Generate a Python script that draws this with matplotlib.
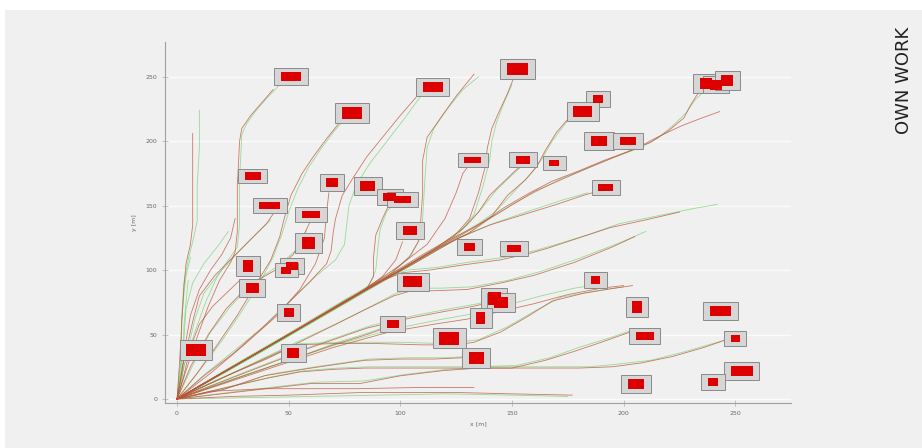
import matplotlib.pyplot as plt
from matplotlib.patches import Rectangle
import numpy as np

# obstacles: centre x, centre y, width, height [m]
box_x = [51, 114.6, 152.6, 78.3, 237, 241.5, 246.5, 188.5, 181.7, 189, 202,
         132.5, 155, 169, 34, 69.4, 85.5, 41.6, 60, 95.3, 101, 192, 104.3,
         59, 131, 151, 31.8, 51.5, 49, 33.6, 105.6, 187.5, 142, 145, 50,
         206, 243.5, 136, 96.7, 122, 209.5, 250, 8.5, 52, 134, 253, 205.5, 240]
box_y = [250, 242, 256, 222, 245, 244, 247, 233, 223, 200, 200,
         185.5, 185.5, 183, 173, 168, 165, 150, 143, 157, 155, 164, 131,
         121, 118, 117, 103, 103, 100, 86, 91, 92.4, 78, 75, 67,
         71.4, 68.3, 63, 58, 47, 49, 47, 38, 35.7, 32, 21.7, 11.6, 13.2]
box_w = [9.0, 8.7, 9.5, 9.0, 5.4, 5.4, 5.4, 4.5, 8.5, 7.0, 7.5,
         7.5, 6.3, 4.5, 7.0, 5.0, 6.7, 9.4, 8.0, 5.8, 7.6, 6.7, 6.3,
         6.0, 4.8, 6.4, 4.5, 5.0, 4.5, 5.8, 8.5, 4.0, 5.8, 6.3, 4.5,
         4.2, 9.5, 4.0, 5.2, 9.0, 8.0, 3.9, 8.7, 5.2, 6.7, 9.7, 7.2, 4.5]
box_h = [7.0, 7.8, 9.8, 9.3, 8.5, 7.8, 8.5, 6.5, 9.0, 7.8, 6.5,
         5.2, 5.7, 4.7, 5.5, 7.0, 7.8, 5.2, 5.2, 6.2, 5.4, 5.7, 7.0,
         9.3, 6.0, 5.7, 9.5, 6.2, 5.4, 7.8, 8.3, 6.5, 10.0, 8.5, 7.0,
         9.0, 7.8, 9.6, 6.2, 9.6, 6.2, 5.2, 9.0, 8.3, 9.6, 8.0, 7.8, 6.0]
pad = 3.0

# planned paths (red) and driven paths (green), upper fan
red_upper = [
    [(0, 0), (1, 25), (2, 55), (3, 85), (4, 105), (6, 120), (7, 135), (7, 160), (7, 185), (7, 206)],
    [(0, 0), (4, 22), (9, 48), (14, 72), (19, 92), (24, 106), (26, 114), (27, 130), (27, 165),
     (28, 200), (29, 210), (33, 220), (38, 230), (43, 240)],
    [(0, 0), (3, 30), (7, 60), (10, 80), (17, 96), (25, 110), (33, 124), (40, 136), (44, 146)],
    [(0, 0), (6, 25), (14, 50), (22, 70), (32, 88), (44, 100), (52, 112), (57, 128), (60, 139)],
    [(0, 0), (9, 20), (18, 42), (27, 65), (35, 88), (42, 108), (46, 126), (48, 140), (51, 158),
     (56, 175), (61, 188), (67, 202), (73, 215)],
    [(0, 0), (12, 18), (25, 35), (38, 55), (50, 75), (60, 92), (67, 105), (69, 115), (70, 130),
     (71, 140), (74, 158), (79, 172), (85, 188), (92, 203), (100, 220), (108, 236)],
    [(0, 0), (20, 20), (40, 40), (60, 60), (75, 75), (85, 86), (88, 95), (88, 110), (89, 127),
     (92, 140), (95, 151)],
    [(0, 0), (25, 25), (50, 50), (75, 76), (95, 96), (104, 110), (108, 122), (109, 135), (110, 160),
     (110, 185), (112, 203), (118, 218), (125, 235), (133, 252)],
    [(0, 0), (30, 30), (60, 60), (90, 91), (110, 112), (124, 126), (131, 140), (135, 160), (138, 180),
     (139, 195), (141, 210), (144, 222), (148, 237), (151, 250)],
    [(0, 0), (35, 35), (70, 70), (100, 100), (120, 120), (133, 133), (141, 142), (148, 158),
     (156, 170), (161, 180), (165, 193), (170, 207), (175, 217)],
    [(0, 0), (35, 35), (70, 70), (100, 100), (118, 118), (130, 128), (138, 138), (146, 148),
     (158, 160), (168, 169), (180, 177), (191, 185), (202, 192), (212, 199), (220, 208),
     (227, 218), (230, 228), (234, 239)],
    [(0, 0), (50, 50), (100, 100), (125, 126), (140, 140), (160, 161), (185, 180), (205, 194),
     (215, 203), (226, 212), (235, 218), (243, 223)],
    [(0, 0), (40, 40), (80, 80), (105, 104), (125, 124), (140, 135), (155, 143), (170, 151),
     (182, 158), (188, 161)],
    [(0, 0), (40, 40), (75, 76), (92, 92), (101, 98), (113, 100), (128, 104), (145, 108),
     (158, 113), (166, 117), (180, 125), (194, 133), (210, 139), (225, 145)],
    [(0, 0), (45, 45), (90, 90), (115, 116), (128, 132), (135, 145), (140, 158), (146, 168),
     (152, 178), (156, 183)],
    [(0, 0), (30, 30), (60, 60), (85, 86), (100, 104), (112, 120), (120, 140), (125, 160),
     (128, 175), (131, 182)],
    [(0, 0), (15, 20), (30, 42), (45, 65), (55, 85), (62, 105), (66, 125), (67, 145), (68, 160)],
    [(0, 0), (2, 20), (4, 45), (6, 65), (10, 85), (15, 100), (20, 112), (24, 125), (26, 140)],
    [(0, 0), (3, 18), (6, 40), (10, 58), (16, 72), (22, 82), (28, 92)],
    [(0, 0), (40, 40), (80, 80), (92, 95), (98, 108), (101, 122)],
]
green_upper = [
    [(0, 0), (2, 25), (2, 60), (3, 90), (5, 108), (7, 122), (9, 138), (9, 165), (10, 195), (10, 224)],
    [(0, 0), (3, 25), (8, 52), (13, 76), (18, 95), (23, 108), (27, 118), (28, 135), (28, 170),
     (29, 205), (31, 213), (35, 223), (40, 233), (46, 244)],
    [(0, 0), (4, 32), (8, 62), (12, 82), (19, 98), (27, 113), (35, 127), (42, 139)],
    [(0, 0), (7, 26), (15, 52), (24, 72), (34, 90), (45, 103), (53, 115), (58, 131)],
    [(0, 0), (10, 22), (20, 45), (29, 68), (37, 90), (43, 110), (47, 128), (50, 145), (54, 163),
     (59, 180), (64, 193), (70, 207), (75, 217)],
    [(0, 0), (13, 20), (26, 38), (40, 58), (52, 78), (62, 95), (71, 108), (75, 120), (76, 135),
     (77, 150), (80, 165), (86, 182), (94, 200), (102, 218), (110, 237)],
    [(0, 0), (22, 21), (42, 41), (62, 61), (77, 76), (86, 88), (89, 100), (90, 118), (91, 132),
     (94, 146), (98, 152)],
    [(0, 0), (25, 26), (50, 51), (75, 77), (96, 98), (105, 112), (109, 125), (110, 140), (111, 170),
     (112, 195), (115, 210), (121, 225), (128, 240), (135, 250)],
    [(0, 0), (31, 30), (61, 61), (91, 92), (112, 113), (126, 128), (133, 143), (137, 165), (140, 185),
     (141, 200), (143, 214), (146, 228), (150, 244)],
    [(0, 0), (36, 36), (71, 71), (101, 101), (121, 122), (135, 136), (143, 146), (151, 161),
     (158, 174), (163, 185), (168, 200), (174, 214), (180, 226), (186, 232)],
    [(0, 0), (36, 35), (71, 70), (101, 100), (120, 119), (132, 130), (140, 140), (150, 151),
     (162, 162), (172, 171), (184, 179), (195, 187), (206, 194), (215, 202), (222, 212),
     (228, 222), (232, 232), (238, 242)],
    [(0, 0), (41, 40), (81, 80), (106, 105), (127, 126), (143, 137), (158, 146), (172, 154),
     (184, 160)],
    [(0, 0), (41, 40), (76, 77), (93, 93), (103, 100), (116, 102), (130, 106), (147, 110),
     (160, 115), (170, 120), (185, 128), (198, 136), (215, 142), (232, 148), (242, 151)],
    [(0, 0), (46, 45), (91, 91), (117, 118), (130, 135), (137, 149), (143, 162), (149, 172),
     (154, 180)],
    [(0, 0), (1, 20), (3, 45), (4, 70), (7, 90), (12, 105), (18, 118), (23, 130)],
    [(0, 0), (1, 15), (2, 35), (2, 60), (3, 80), (4, 95), (6, 110)],
    [(0, 0), (2, 12), (3, 30), (3, 55), (4, 75), (5, 92)],
]

# lower fan
red_lower = [
    [(0, 0), (25, 20), (50, 40), (70, 57), (85, 70), (97, 80), (105, 84), (115, 84), (130, 85),
     (145, 90), (160, 96), (178, 106), (195, 118), (205, 126)],
    [(0, 0), (30, 20), (60, 40), (85, 55), (105, 63), (120, 68), (133, 72), (140, 75)],
    [(0, 0), (35, 20), (70, 40), (95, 52), (115, 58), (130, 62), (145, 68), (160, 74), (175, 81),
     (190, 86), (200, 88)],
    [(0, 0), (12, 10), (25, 20), (40, 31), (53, 42), (70, 43), (90, 43), (110, 42), (125, 42),
     (133, 44), (145, 52), (157, 64), (168, 76), (182, 82), (196, 86), (204, 88)],
    [(0, 0), (20, 8), (40, 16), (55, 21), (70, 23), (84, 24), (110, 24), (131, 24), (150, 24),
     (165, 30), (178, 37), (190, 44), (203, 52), (209, 50)],
    [(0, 0), (30, 6), (60, 12), (82, 12), (100, 18), (119, 22), (135, 24), (160, 24), (180, 24),
     (195, 25), (208, 28), (222, 33), (236, 40), (246, 46)],
    [(0, 0), (20, 7), (39, 18), (60, 24), (84, 30), (100, 31), (115, 31), (128, 32)],
    [(0, 0), (25, 2), (50, 3), (82, 5), (105, 5), (127, 5), (150, 4), (177, 3)],
    [(0, 0), (15, 6), (40, 8), (80, 8), (110, 9), (133, 9)],
    [(0, 0), (25, 15), (50, 30), (70, 42), (85, 50), (93, 55)],
]
green_lower = [
    [(0, 0), (26, 21), (51, 42), (72, 59), (87, 72), (98, 82), (107, 86), (118, 86), (132, 87),
     (148, 92), (163, 99), (180, 109), (198, 121), (210, 130)],
    [(0, 0), (32, 22), (62, 42), (87, 57), (107, 65), (122, 70), (135, 74), (143, 78)],
    [(0, 0), (36, 22), (71, 42), (96, 54), (116, 61), (132, 66), (148, 73), (163, 80), (178, 86),
     (193, 90)],
    [(0, 0), (13, 11), (27, 22), (42, 33), (55, 43), (75, 44), (100, 44), (120, 43), (135, 46),
     (148, 56), (160, 68), (172, 79), (188, 84), (200, 87)],
    [(0, 0), (22, 9), (42, 17), (57, 22), (72, 24), (86, 25), (112, 25), (133, 25), (152, 26),
     (167, 32), (180, 40), (193, 47), (205, 54)],
    [(0, 0), (32, 7), (62, 13), (84, 14), (102, 19), (121, 23), (140, 25), (165, 25), (185, 25),
     (197, 27), (212, 30), (226, 36), (240, 43), (248, 47)],
    [(0, 0), (22, 8), (41, 19), (62, 25), (86, 31), (104, 32), (120, 32), (130, 33)],
    [(0, 0), (30, 1), (60, 2), (90, 3), (120, 4), (150, 3), (175, 2)],
    [(0, 0), (26, 16), (52, 31), (72, 44), (87, 52), (95, 57)],
]

ticks = [0, 50, 100, 150, 200, 250]

fig = plt.figure(figsize=(9.22, 4.48), dpi=100, facecolor='white')
fig.patches.append(Rectangle((5 / 922, 0), 1, 1 - 10 / 448, transform=fig.transFigure,
                             facecolor='#f0f0f0', edgecolor='none', zorder=-10))
ax = fig.add_axes([165 / 922, 1 - 403 / 448, 626 / 922, 361 / 448])
ax.set_facecolor('#f0f0f0')
ax.set_xlim(-5.4, 275)
ax.set_ylim(-3.1, 277)

for s in ['top', 'right']:
    ax.spines[s].set_visible(False)
for s in ['left', 'bottom']:
    ax.spines[s].set_color('#a0a0a0')
    ax.spines[s].set_linewidth(0.8)

ax.set_xticks(ticks)
ax.set_yticks(ticks)
ax.tick_params(direction='inout', length=5, width=0.5, color='#aaaaaa',
               labelsize=4.5, labelcolor='#6a6a6a', pad=3)
ax.grid(axis='y', color='#fbfbfb', linewidth=1.0)
ax.set_axisbelow(True)
ax.set_xlabel('x [m]', fontsize=4.5, color='#6a6a6a', labelpad=4)
ax.set_ylabel('y [m]', fontsize=4.5, color='#6a6a6a', labelpad=6)

for p in green_upper + green_lower:
    a = np.array(p)
    ax.plot(a[:, 0], a[:, 1], color='#5ccc5c', lw=0.6, alpha=0.6, zorder=2)
for p in red_upper + red_lower:
    a = np.array(p)
    ax.plot(a[:, 0], a[:, 1], color='#c0503a', lw=0.6, alpha=0.75, zorder=2)

for x, y, w, h in zip(box_x, box_y, box_w, box_h):
    ax.add_patch(Rectangle((x - w / 2 - pad, y - h / 2 - pad), w + 2 * pad, h + 2 * pad,
                           facecolor='#d6d6d6', edgecolor='#8a8a8a', lw=0.7, zorder=3))
    ax.add_patch(Rectangle((x - w / 2, y - h / 2), w, h,
                           facecolor='#dd0000', edgecolor='none', zorder=4))

fig.text(0.981, 0.82, 'OWN WORK', rotation=90, fontsize=13, ha='center', va='center',
         color='#222222')

fig.savefig('out.png', dpi=100)
